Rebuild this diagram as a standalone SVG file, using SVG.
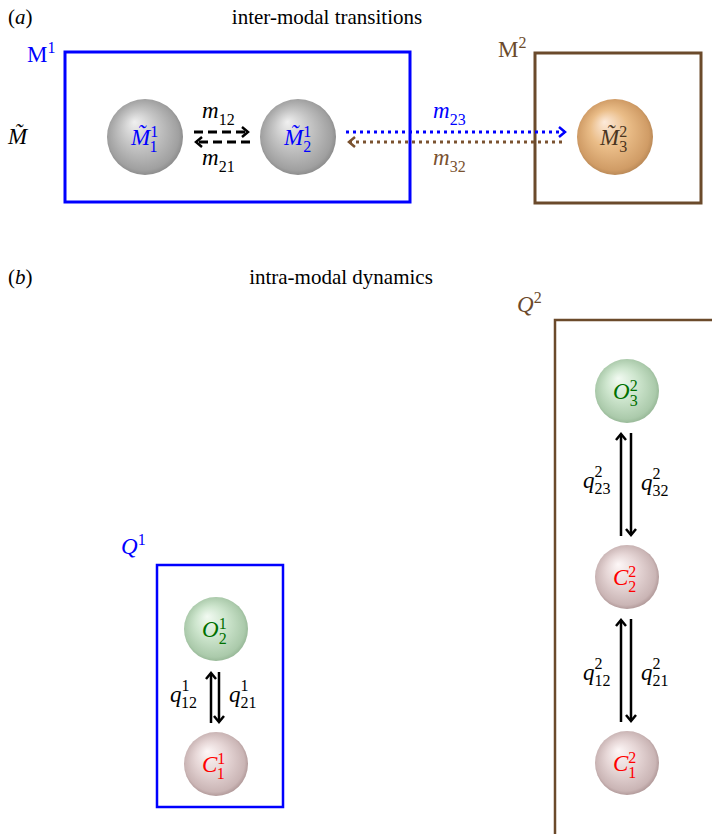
<svg xmlns="http://www.w3.org/2000/svg" width="712" height="834" viewBox="0 0 712 834">
<style>
text{font-family:"Liberation Serif","Times New Roman",serif;fill:#000}
.t{font-size:21px}
.it{font-style:italic}
.lbl{font-size:23px}
.sub{font-size:16px;font-style:normal}
.blue{fill:#0000ff}
.brown{fill:#6b4a2b}
.green{fill:#007000}
.red{fill:#ff0000}
.node-txt{font-size:23px;font-style:italic}
</style>
<defs>
<radialGradient id="gGrey" cx="0.5" cy="0.5" r="0.55" fx="0.36" fy="0.3">
<stop offset="0" stop-color="#f0f0f0"/><stop offset="0.45" stop-color="#c4c4c4"/><stop offset="0.85" stop-color="#a0a0a0"/><stop offset="1" stop-color="#7e7e7e"/>
</radialGradient>
<radialGradient id="gOrange" cx="0.5" cy="0.5" r="0.55" fx="0.36" fy="0.3">
<stop offset="0" stop-color="#fdeada"/><stop offset="0.45" stop-color="#eabd88"/><stop offset="0.85" stop-color="#d09c66"/><stop offset="1" stop-color="#aa7c4c"/>
</radialGradient>
<radialGradient id="gGreen" cx="0.5" cy="0.5" r="0.55" fx="0.36" fy="0.3">
<stop offset="0" stop-color="#f2faf2"/><stop offset="0.45" stop-color="#cde5cd"/><stop offset="0.85" stop-color="#abcaab"/><stop offset="1" stop-color="#8aac8a"/>
</radialGradient>
<radialGradient id="gPink" cx="0.5" cy="0.5" r="0.55" fx="0.36" fy="0.3">
<stop offset="0" stop-color="#fdf7f7"/><stop offset="0.45" stop-color="#e6d6d6"/><stop offset="0.85" stop-color="#cab5b5"/><stop offset="1" stop-color="#a08686"/>
</radialGradient>
<marker id="hk" markerWidth="10" markerHeight="12" refX="8" refY="6" orient="auto" markerUnits="userSpaceOnUse"><path d="M2,1 L8,6 L2,11" fill="none" stroke="#000" stroke-width="2.5"/></marker>
<marker id="hb" markerWidth="10" markerHeight="12" refX="8" refY="6" orient="auto" markerUnits="userSpaceOnUse"><path d="M2,1 L8,6 L2,11" fill="none" stroke="#0000ff" stroke-width="2.5"/></marker>
<marker id="hr" markerWidth="10" markerHeight="12" refX="8" refY="6" orient="auto" markerUnits="userSpaceOnUse"><path d="M2,1 L8,6 L2,11" fill="none" stroke="#7a5230" stroke-width="2.5"/></marker>
</defs>
<rect width="712" height="834" fill="#fff"/>

<!-- Panel a -->
<g id="panel-a-labels">
<text class="t" x="8" y="24">(<tspan class="it">a</tspan>)</text>
<text class="t" x="327" y="24" text-anchor="middle">inter-modal transitions</text>
<text class="lbl it" x="8" y="144">M̃</text>
</g>
<g id="M1">
<rect x="65" y="52" width="345" height="150" fill="none" stroke="#0000ff" stroke-width="3"/>
<text class="lbl blue" x="27" y="62">M<tspan class="sub" dy="-9">1</tspan></text>
</g>
<g id="M2">
<rect x="535" y="53" width="166" height="150" fill="none" stroke="#6b4a2b" stroke-width="3"/>
<text class="lbl brown" x="498" y="57">M<tspan class="sub" dy="-9">2</tspan></text>
</g>
<g id="M1_1">
<circle cx="145" cy="137" r="38" fill="url(#gGrey)"/>
<text class="node-txt blue" x="131" y="145">M̃<tspan class="sub" dy="-8">1</tspan><tspan class="sub" dx="-8" dy="15">1</tspan></text>
</g>
<g id="M1_2">
<circle cx="298" cy="137" r="38" fill="url(#gGrey)"/>
<text class="node-txt blue" x="284" y="145">M̃<tspan class="sub" dy="-8">1</tspan><tspan class="sub" dx="-8" dy="15">2</tspan></text>
</g>
<g id="M2_3">
<circle cx="615" cy="137" r="38" fill="url(#gOrange)"/>
<text class="node-txt" x="600" y="145" style="fill:#4a3520">M̃<tspan class="sub" dy="-8">2</tspan><tspan class="sub" dx="-8" dy="15">3</tspan></text>
</g>
<g id="connectors-a">
<line x1="194" y1="132" x2="248" y2="132" stroke="#000" stroke-width="3" stroke-dasharray="9,5" marker-end="url(#hk)"/>
<line x1="250" y1="142" x2="196" y2="142" stroke="#000" stroke-width="3" stroke-dasharray="9,5" marker-end="url(#hk)"/>
<line x1="346" y1="132" x2="565" y2="132" stroke="#0000ff" stroke-width="3" stroke-dasharray="3,4" marker-end="url(#hb)"/>
<line x1="562" y1="142" x2="349" y2="142" stroke="#7a5230" stroke-width="3" stroke-dasharray="3,4" marker-end="url(#hr)"/>
<text class="lbl it" x="202" y="118">m<tspan class="sub" dy="7">12</tspan></text>
<text class="lbl it" x="202" y="165">m<tspan class="sub" dy="7">21</tspan></text>
<text class="lbl it blue" x="433" y="118">m<tspan class="sub" dy="7">23</tspan></text>
<text class="lbl it" x="433" y="165" style="fill:#7a5230">m<tspan class="sub" dy="7">32</tspan></text>
</g>

<!-- Panel b -->
<g id="panel-b-labels">
<text class="t" x="8" y="284">(<tspan class="it">b</tspan>)</text>
<text class="t" x="341" y="284" text-anchor="middle">intra-modal dynamics</text>
</g>
<g id="Q1">
<rect x="157" y="565" width="126" height="242" fill="none" stroke="#0000ff" stroke-width="2.5"/>
<text class="lbl it blue" x="121" y="554">Q<tspan class="sub" dy="-9">1</tspan></text>
</g>
<g id="Q2">
<rect x="555" y="320" width="170" height="530" fill="none" stroke="#6b4a2b" stroke-width="2.5"/>
<text class="lbl it brown" x="517" y="312">Q<tspan class="sub" dy="-9">2</tspan></text>
</g>
<g id="O1_2">
<circle cx="216" cy="629" r="32" fill="url(#gGreen)"/>
<text class="node-txt green" x="202" y="637">O<tspan class="sub" dy="-8">1</tspan><tspan class="sub" dx="-8" dy="15">2</tspan></text>
</g>
<g id="C1_1">
<circle cx="216" cy="764" r="32" fill="url(#gPink)"/>
<text class="node-txt red" x="202" y="772">C<tspan class="sub" dy="-8">1</tspan><tspan class="sub" dx="-8" dy="15">1</tspan></text>
</g>
<g id="O2_3">
<circle cx="627" cy="391" r="32" fill="url(#gGreen)"/>
<text class="node-txt green" x="613" y="399">O<tspan class="sub" dy="-8">2</tspan><tspan class="sub" dx="-8" dy="15">3</tspan></text>
</g>
<g id="C2_2">
<circle cx="627" cy="577" r="32" fill="url(#gPink)"/>
<text class="node-txt red" x="613" y="585">C<tspan class="sub" dy="-8">2</tspan><tspan class="sub" dx="-8" dy="15">2</tspan></text>
</g>
<g id="C2_1">
<circle cx="627" cy="763" r="32" fill="url(#gPink)"/>
<text class="node-txt red" x="613" y="771">C<tspan class="sub" dy="-8">2</tspan><tspan class="sub" dx="-8" dy="15">1</tspan></text>
</g>
<g id="connectors-b" stroke="#000" stroke-width="2.5" fill="none">
<line x1="211" y1="723" x2="211" y2="673" marker-end="url(#hk)"/>
<line x1="219" y1="672" x2="219" y2="722" marker-end="url(#hk)"/>
<line x1="621" y1="536" x2="621" y2="434" marker-end="url(#hk)"/>
<line x1="631" y1="433" x2="631" y2="535" marker-end="url(#hk)"/>
<line x1="621" y1="722" x2="621" y2="620" marker-end="url(#hk)"/>
<line x1="631" y1="619" x2="631" y2="721" marker-end="url(#hk)"/>
</g>
<g id="labels-b">
<text class="lbl it" x="170" y="702">q<tspan class="sub" dy="-11">1</tspan><tspan class="sub" dx="-8" dy="17">12</tspan></text>
<text class="lbl it" x="229" y="702">q<tspan class="sub" dy="-11">1</tspan><tspan class="sub" dx="-8" dy="17">21</tspan></text>
<text class="lbl it" x="583" y="488">q<tspan class="sub" dy="-11">2</tspan><tspan class="sub" dx="-8" dy="17">23</tspan></text>
<text class="lbl it" x="641" y="490">q<tspan class="sub" dy="-11">2</tspan><tspan class="sub" dx="-8" dy="17">32</tspan></text>
<text class="lbl it" x="583" y="680">q<tspan class="sub" dy="-11">2</tspan><tspan class="sub" dx="-8" dy="17">12</tspan></text>
<text class="lbl it" x="641" y="680">q<tspan class="sub" dy="-11">2</tspan><tspan class="sub" dx="-8" dy="17">21</tspan></text>
</g>
</svg>
